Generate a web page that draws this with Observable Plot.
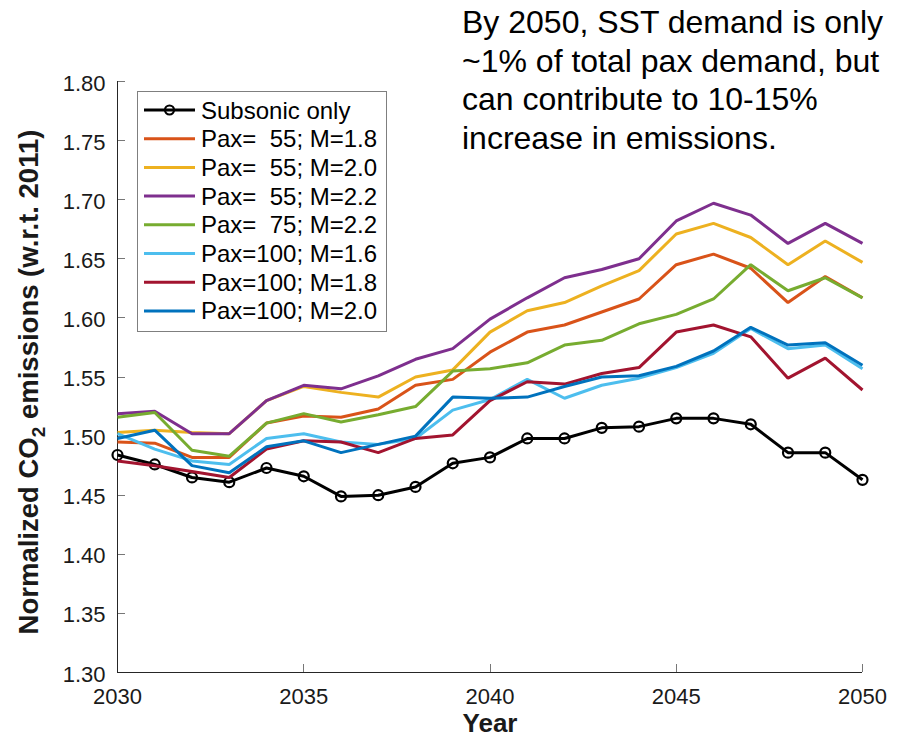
<!DOCTYPE html>
<html>
<head>
<meta charset="utf-8">
<script src="https://cdn.jsdelivr.net/npm/d3@7"></script>
<script src="https://cdn.jsdelivr.net/npm/@observablehq/plot@0.6"></script>
<style>
  html, body { margin: 0; padding: 0; background: #fff; }
  #chart svg { display: block; }
</style>
</head>
<body>
<div id="chart"></div>
<script>
const years = [2030,2031,2032,2033,2034,2035,2036,2037,2038,2039,2040,2041,2042,2043,2044,2045,2046,2047,2048,2049,2050];
const xTicks = [2030, 2035, 2040, 2045, 2050];
const yTicks = [1.30,1.35,1.40,1.45,1.50,1.55,1.60,1.65,1.70,1.75,1.80];

const seriesNames = [
  "Subsonic only",
  "Pax=  55; M=1.8",
  "Pax=  55; M=2.0",
  "Pax=  55; M=2.2",
  "Pax=  75; M=2.2",
  "Pax=100; M=1.6",
  "Pax=100; M=1.8",
  "Pax=100; M=2.0"
];
const seriesColors = ["#000000","#D95319","#EDB120","#7E2F8E","#77AC30","#4DBEEE","#A2142F","#0072BD"];

const subsonic   = [1.484,1.476,1.465,1.461,1.473,1.466,1.449,1.450,1.457,1.477,1.482,1.498,1.498,1.507,1.508,1.515,1.515,1.510,1.486,1.486,1.463];
const pax55_m18  = [1.495,1.494,1.482,1.482,1.511,1.517,1.516,1.523,1.543,1.548,1.571,1.588,1.594,1.605,1.616,1.645,1.654,1.642,1.613,1.635,1.617];
const pax55_m20  = [1.503,1.505,1.503,1.502,1.530,1.542,1.537,1.533,1.550,1.556,1.588,1.606,1.613,1.627,1.640,1.671,1.680,1.668,1.645,1.665,1.647];
const pax55_m22  = [1.519,1.521,1.502,1.502,1.530,1.543,1.540,1.551,1.565,1.574,1.599,1.617,1.634,1.641,1.650,1.682,1.697,1.687,1.663,1.680,1.663];
const pax75_m22  = [1.516,1.520,1.488,1.483,1.511,1.519,1.512,1.518,1.525,1.555,1.557,1.562,1.577,1.581,1.595,1.603,1.616,1.645,1.623,1.634,1.617];
const pax100_m16 = [1.502,1.489,1.479,1.476,1.498,1.502,1.495,1.493,1.498,1.522,1.531,1.548,1.532,1.543,1.549,1.558,1.570,1.591,1.574,1.577,1.557];
const pax100_m18 = [1.479,1.475,1.470,1.465,1.489,1.496,1.495,1.486,1.498,1.501,1.530,1.546,1.544,1.553,1.558,1.588,1.594,1.584,1.549,1.566,1.539];
const pax100_m20 = [1.498,1.505,1.475,1.469,1.491,1.496,1.486,1.493,1.500,1.533,1.532,1.533,1.542,1.550,1.551,1.559,1.572,1.592,1.577,1.579,1.560];

const seriesValues = [subsonic, pax55_m18, pax55_m20, pax55_m22, pax75_m22, pax100_m16, pax100_m18, pax100_m20];

const annotationLines = [
  "By 2050, SST demand is only",
  "~1% of total pax demand, but",
  "can contribute to 10-15%",
  "increase in emissions."
];

const rows = [];
seriesValues.forEach((vals, si) => {
  vals.forEach((v, i) => rows.push({series: seriesNames[si], idx: si, year: years[i], value: v}));
});
const subRows = rows.filter(d => d.idx === 0);

const FONT = "'Liberation Sans', Arial, Helvetica, sans-serif";
const axisColor = "#262626";

const lineMarks = seriesNames.map((name, si) =>
  Plot.line(rows.filter(d => d.idx === si), {x: "year", y: "value", stroke: seriesColors[si], strokeWidth: 3, strokeLinejoin: "miter", strokeLinecap: "butt"})
);

const chart = Plot.plot({
  width: 905,
  height: 738,
  marginLeft: 117,
  marginRight: 43,
  marginTop: 81,
  marginBottom: 66,
  style: {fontFamily: FONT, fontSize: "22px", color: "#1a1a1a", background: "#fff"},
  x: {domain: [2030, 2050]},
  y: {domain: [1.30, 1.80]},
  marks: [
    Plot.axisX({ticks: xTicks, tickFormat: d => String(d), tickSize: 0, tickPadding: 16, fill: "#1a1a1a", label: null, fontSize: 22}),
    Plot.axisY({ticks: yTicks, tickFormat: d => d.toFixed(2), tickSize: 0, tickPadding: 12, dy: 2, fill: "#1a1a1a", label: null, fontSize: 22}),
    Plot.ruleY([1.30], {stroke: axisColor, strokeWidth: 1}),
    Plot.ruleX([2030], {stroke: axisColor, strokeWidth: 1}),
    lineMarks[0],
    Plot.dot(subRows, {x: "year", y: "value", r: 5, stroke: "#000", strokeWidth: 2.2, fill: "none"}),
    ...lineMarks.slice(1)
  ]
});

const svg = d3.select(chart);
const sx = chart.scale("x");
const sy = chart.scale("y");

// Inward tick marks (MATLAB style), placed with the chart's own scales
const tickG = svg.insert("g", ":first-child").attr("stroke", "#777").attr("stroke-width", 1);
const x0 = sx.apply(2030), y0 = sy.apply(1.30);
yTicks.forEach(t => {
  const y = Math.round(sy.apply(t)) + 0.5;
  tickG.append("line").attr("x1", x0).attr("x2", x0 + 8).attr("y1", y).attr("y2", y);
});
xTicks.forEach(t => {
  const x = Math.round(sx.apply(t)) + 0.5;
  tickG.append("line").attr("x1", x).attr("x2", x).attr("y1", y0).attr("y2", y0 - 8);
});

// Axis titles
svg.append("text")
  .attr("x", 490).attr("y", 732)
  .attr("text-anchor", "middle")
  .attr("font-family", FONT).attr("font-size", 26).attr("font-weight", "bold")
  .attr("fill", "#1a1a1a")
  .text("Year");

const yt = svg.append("text")
  .attr("transform", "translate(38,382) rotate(-90)")
  .attr("text-anchor", "middle")
  .attr("font-family", FONT).attr("font-size", 27.5).attr("font-weight", "bold")
  .attr("fill", "#1a1a1a");
yt.append("tspan").text("Normalized CO");
yt.append("tspan").attr("font-size", 19).attr("dy", 7).text("2");
yt.append("tspan").attr("dy", -7).text(" emissions (w.r.t. 2011)");

// Annotation
const ann = svg.append("text")
  .attr("text-anchor", "start")
  .attr("font-family", FONT).attr("font-size", 32).attr("fill", "#000");
annotationLines.forEach((t, i) => {
  ann.append("tspan").attr("x", 462).attr("y", 33 + i * 38.5).text(t);
});

// Legend
const lg = svg.append("g").attr("text-anchor", "start");
lg.append("rect")
  .attr("x", 137.5).attr("y", 91.5).attr("width", 249).attr("height", 240)
  .attr("fill", "#fff").attr("stroke", "#7f7f7f").attr("stroke-width", 1);
seriesNames.forEach((name, i) => {
  const cy = 110 + i * 28.7;
  lg.append("line")
    .attr("x1", 144).attr("x2", 195).attr("y1", cy).attr("y2", cy)
    .attr("stroke", seriesColors[i]).attr("stroke-width", 3);
  if (i === 0) {
    lg.append("circle").attr("cx", 169.5).attr("cy", cy).attr("r", 4.5)
      .attr("fill", "none").attr("stroke", "#000").attr("stroke-width", 2.2);
  }
  lg.append("text")
    .attr("x", 201).attr("y", cy + 8.5)
    .attr("text-anchor", "start")
    .attr("font-family", FONT).attr("font-size", 24).attr("fill", "#000")
    .attr("xml:space", "preserve")
    .style("white-space", "pre")
    .text(name);
});

document.getElementById("chart").appendChild(chart);
</script>
</body>
</html>
